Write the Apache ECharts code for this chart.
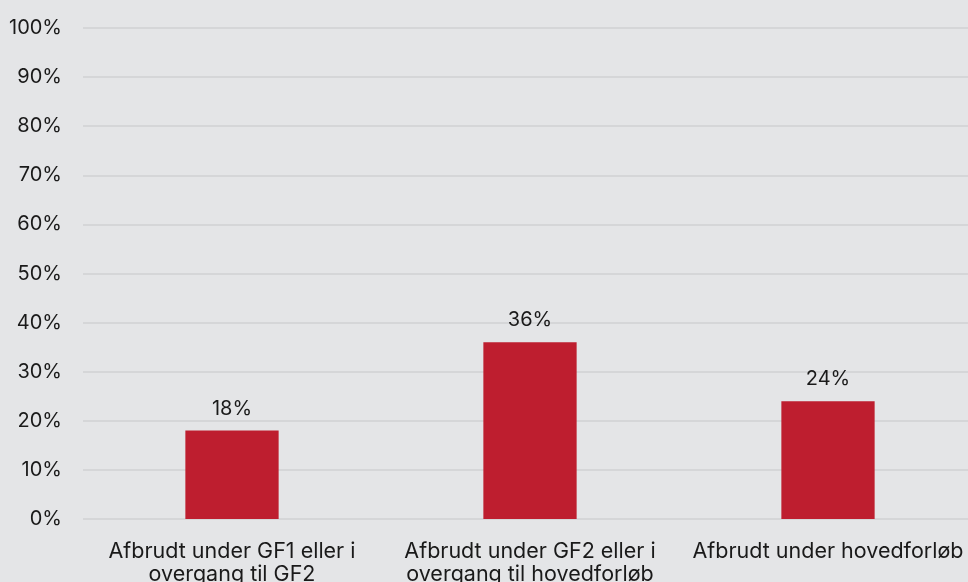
<!DOCTYPE html>
<html>
<head>
<meta charset="utf-8">
<script src="https://cdn.jsdelivr.net/npm/echarts@6/dist/echarts.min.js"></script>
<style>
  html, body { margin: 0; padding: 0; background: #e4e5e7; }
  #chart { width: 968px; height: 582px; }
</style>
</head>
<body>
<div id="chart"></div>
<script>
var categories = ['Afbrudt under GF1 eller i\novergang til GF2', 'Afbrudt under GF2 eller i\novergang til hovedforløb', 'Afbrudt under hovedforløb'];
var values = [18, 36, 24];

var chart = echarts.init(document.getElementById('chart'));
chart.setOption({
  backgroundColor: '#e4e5e7',
  textStyle: { fontFamily: 'Inter' },
  grid: { left: 83, top: 28, width: 894, bottom: 63, outerBoundsMode: 'none' },
  xAxis: {
    type: 'category',
    data: categories,
    axisLine: { show: false },
    axisTick: { show: false },
    axisLabel: { color: '#1a1a1a', fontSize: 21.5, margin: 21, lineHeight: 23, interval: 0 }
  },
  yAxis: {
    type: 'value',
    min: 0,
    max: 100,
    interval: 10,
    axisLine: { show: false },
    axisTick: { show: false },
    axisLabel: { color: '#1a1a1a', fontSize: 20, margin: 21, formatter: '{value}%' },
    splitLine: { lineStyle: { color: '#d5d6d8', width: 2 } }
  },
  series: [{
    type: 'bar',
    data: values,
    barWidth: '31.3%',
    itemStyle: { color: '#be1e2f' },
    label: { show: true, position: 'top', distance: 12, color: '#1a1a1a', fontSize: 20, formatter: '{c}%' }
  }]
});
</script>
</body>
</html>
